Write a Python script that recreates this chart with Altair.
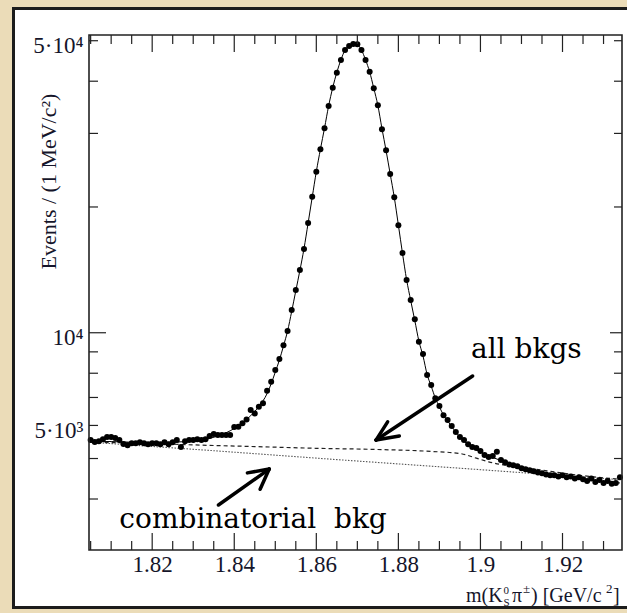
import altair as alt
import pandas as pd

# ---------------- data ----------------
# 1 MeV bins, centres from 1.805 to 1.934 GeV/c^2
mass = [round(1.805 + 0.001 * i, 3) for i in range(130)]
events = [
    5535, 5475, 5500, 5560, 5630, 5630, 5600, 5535, 5420, 5380,
    5440, 5440, 5470, 5440, 5410, 5440, 5440, 5410, 5470, 5410,
    5470, 5535, 5330, 5500, 5535, 5535, 5560, 5535, 5560, 5660,
    5720, 5690, 5690, 5690, 5690, 5950, 5960, 6070, 6200, 6530,
    6410, 6650, 6780, 7260, 7630, 8140, 8650, 9340, 10090, 11330,
    12650, 14130, 15860, 18300, 21160, 24290, 27490, 30860, 34880, 38600,
    41930, 44970, 47520, 48580, 49120, 49050, 47520, 44970, 42160, 38470,
    35020, 30690, 27330, 23990, 21090, 18090, 15510, 13370, 11980, 10770,
    9520, 8890, 7920, 7500, 6970, 6680, 6350, 6180, 5980, 5790,
    5630, 5535, 5410, 5330, 5300, 5210, 5100, 5040, 5070, 5190,
    4960, 4900, 4840, 4820, 4790, 4740, 4710, 4690, 4660, 4630,
    4610, 4580, 4560, 4560, 4530, 4560, 4510, 4530, 4480, 4510,
    4460, 4420, 4480, 4390, 4440, 4370, 4420, 4350, 4370, 4510,
]

fit_mass = [
    1.805, 1.810, 1.815, 1.820, 1.825, 1.830, 1.833, 1.836, 1.838, 1.840,
    1.842, 1.844, 1.846, 1.848,
    1.849, 1.850, 1.851, 1.852, 1.853, 1.854, 1.855, 1.856, 1.857, 1.858,
    1.859, 1.860, 1.861, 1.862, 1.863, 1.864, 1.865, 1.866, 1.867, 1.868,
    1.869, 1.870, 1.871, 1.872, 1.873, 1.874, 1.875, 1.876, 1.877, 1.878,
    1.879, 1.880, 1.881, 1.882, 1.883, 1.884, 1.885, 1.886, 1.887, 1.888,
    1.889, 1.890, 1.891, 1.892, 1.893, 1.894, 1.895, 1.896,
    1.898, 1.900, 1.903, 1.906, 1.910, 1.915, 1.920, 1.925, 1.930, 1.934,
]
fit_events = [
    5500, 5490, 5470, 5460, 5470, 5510, 5560, 5660, 5760, 5900,
    6080, 6330, 6660, 7150,
    7550, 8050, 8600, 9300, 10100, 11250, 12600, 14100, 15900, 18300,
    21100, 24300, 27500, 30900, 34900, 38600, 42000, 45000, 47500, 48700,
    49150, 49000, 47500, 45000, 42100, 38500, 35000, 30800, 27300, 24000,
    21100, 18100, 15500, 13400, 11950, 10700, 9550, 8800, 7950, 7450,
    6980, 6650, 6350, 6150, 5960, 5780, 5630, 5500,
    5320, 5180, 5030, 4900, 4760, 4630, 4540, 4470, 4400, 4370,
]

allbkg_mass = [1.805, 1.820, 1.830, 1.845, 1.860, 1.875, 1.888, 1.895,
               1.899, 1.902, 1.907, 1.915, 1.924, 1.934]
allbkg_events = [5470, 5430, 5390, 5340, 5290, 5255, 5200, 5140,
                 5010, 4910, 4800, 4690, 4560, 4460]

comb_mass = [1.805, 1.835, 1.865, 1.895, 1.934]
comb_events = [5470, 5220, 4970, 4740, 4450]

x_major = [1.82, 1.84, 1.86, 1.88, 1.90, 1.92]
x_minor = [1.805, 1.81, 1.815, 1.825, 1.83, 1.835, 1.845, 1.85, 1.855,
           1.865, 1.87, 1.875, 1.885, 1.89, 1.895, 1.905, 1.91, 1.915,
           1.925, 1.93]
y_major = [10000]
y_minor = [4000, 5000, 6000, 7000, 8000, 9000, 20000, 30000, 40000, 50000]
y_label_values = [6000, 10000, 50000]  # labels sit where the reference puts them

# annotations (data coordinates)
arrow_m = [1.8981, 1.87455, 1.87455, 1.83615, 1.84852, 1.84852]
arrow_v = [7880, 5535, 5535, 3870, 4717, 4717]
arrow_m2 = [1.87455, 1.87738, 1.88023, 1.84852, 1.84321, 1.84630]
arrow_v2 = [5535, 6120, 5660, 4717, 4620, 4220]
note_m = [1.8977, 1.8120]
note_v = [8680, 3406]
note_text = ["all bkgs", "combinatorial\u00a0 bkg"]

# ---------------- layout ----------------
W, H = 533, 515
OX, OY = 89, 35
INK = "#15152a"
SERIF = "Liberation Serif"

xs = alt.Scale(domain=[1.8046, 1.9345], nice=False, zero=False)
ys = alt.Scale(type="log", domain=[3020, 51600], nice=False)

xaxis = alt.Axis(values=x_major, format="~g", ticks=False, domain=False,
                 grid=False, labelFont=SERIF, labelFontSize=23,
                 labelColor=INK, labelPadding=3, labelFlush=False,
                 labelOverlap=False, title=None, zindex=5)
yaxis = alt.Axis(values=y_label_values,
                 labelExpr="datum.value == 50000 ? '5·10⁴' : datum.value == 10000 ? '10⁴' : '5·10³'",
                 ticks=False, domain=False, grid=False, labelFont=SERIF,
                 labelFontSize=23, labelColor=INK, labelPadding=6,
                 labelOffset=5, labelOverlap=False, labelFlush=False,
                 title="Events / (1 MeV/c²)", titleFont=SERIF,
                 titleFontSize=22, titleFontWeight="normal", titleColor=INK,
                 titleAngle=270, titleAlign="center",
                 titleBaseline="alphabetic", titleX=-34, titleY=146, zindex=5)


def X(field="m"):
    return alt.X(f"{field}:Q", scale=xs, axis=xaxis)


def Y(field="v"):
    return alt.Y(f"{field}:Q", scale=ys, axis=yaxis)


one = pd.DataFrame({"a": [0]})

panel = alt.Chart(one).mark_rect(fill="white", stroke="#1c1c1c", strokeWidth=3).encode(
    x=alt.value(13.5 - OX), x2=alt.value(660 - OX),
    y=alt.value(8.5 - OY), y2=alt.value(607.5 - OY))

df_pts = pd.DataFrame({"m": mass, "v": events})
df_fit = pd.DataFrame({"m": fit_mass, "v": fit_events})
df_all = pd.DataFrame({"m": allbkg_mass, "v": allbkg_events})
df_comb = pd.DataFrame({"m": comb_mass, "v": comb_events})

dotted = alt.Chart(df_comb).mark_line(color="#555", strokeWidth=1.1, strokeDash=[1.5, 1.5]).encode(x=X(), y=Y())
dashed = alt.Chart(df_all).mark_line(color="#222", strokeWidth=1.2, strokeDash=[4, 3], interpolate="monotone").encode(x=X(), y=Y())
fitline = alt.Chart(df_fit).mark_line(color="black", strokeWidth=1, interpolate="monotone").encode(x=X(), y=Y())
points = alt.Chart(df_pts).mark_circle(size=36, color="black", opacity=1).encode(x=X(), y=Y())


def xticks(vals, y0, y1):
    return alt.Chart(pd.DataFrame({"m": vals})).mark_rule(color="#222", strokeWidth=1.2).encode(
        x=X(), y=alt.value(y0), y2=alt.value(y1))


def yticks(vals, x0, x1):
    return alt.Chart(pd.DataFrame({"v": vals})).mark_rule(color="#222", strokeWidth=1.2).encode(
        y=Y(), x=alt.value(x0), x2=alt.value(x1))


ticks = [
    xticks(x_major, H, H - 17), xticks(x_minor, H, H - 9),
    xticks(x_major, 0, 17), xticks(x_minor, 0, 9),
    yticks(y_major, 0, 17), yticks(y_minor, 0, 9),
    yticks(y_major, W, W - 12), yticks(y_minor, W, W - 8),
]

frame = alt.Chart(one).mark_rect(fill="white", fillOpacity=0, stroke="#222", strokeWidth=1.6).encode(
    x=alt.value(0), x2=alt.value(W), y=alt.value(0), y2=alt.value(H))

df_arrows = pd.DataFrame({"m": arrow_m, "v": arrow_v, "m2": arrow_m2, "v2": arrow_v2})
arrows = alt.Chart(df_arrows).mark_rule(color="black", strokeWidth=3.5, strokeCap="round").encode(
    x=X(), y=Y(), x2="m2:Q", y2="v2:Q")

df_notes = pd.DataFrame({"m": note_m, "v": note_v, "label": note_text})
notes = alt.Chart(df_notes).mark_text(align="left", baseline="alphabetic", font="DejaVu Serif",
                                       fontSize=28, color="black").encode(
    x=X(), y=Y(), text="label:N")

# x-axis title built from pieces (stacked sub/superscripts)
title_pieces = [
    ("m(K", 466, 602, 20),
    ("0", 503.5, 594, 11),
    ("S", 503.5, 606, 11),
    ("π", 512, 602, 20),
    ("±", 523, 593, 13),
    (") [GeV/c", 531, 602, 20),
    ("2", 606, 593, 13),
    ("]", 613, 602, 20),
]
title_layers = [
    alt.Chart(one).mark_text(text=t, align="left", baseline="alphabetic", font=SERIF,
                             fontSize=s, color=INK).encode(
        x=alt.value(px - OX), y=alt.value(py - OY))
    for (t, px, py, s) in title_pieces
]

chart = alt.layer(
    panel, dotted, dashed, fitline, points, *ticks, frame, arrows, notes, *title_layers
).properties(
    width=W, height=H,
    padding={"left": OX, "top": OY, "right": 627 - OX - W, "bottom": 613 - OY - H},
    autosize=alt.AutoSizeParams(type="none"),
).configure(background="#ebdcb8").configure_view(stroke=None)

chart.save("out.html", embed_options={"renderer": "svg", "actions": False})
